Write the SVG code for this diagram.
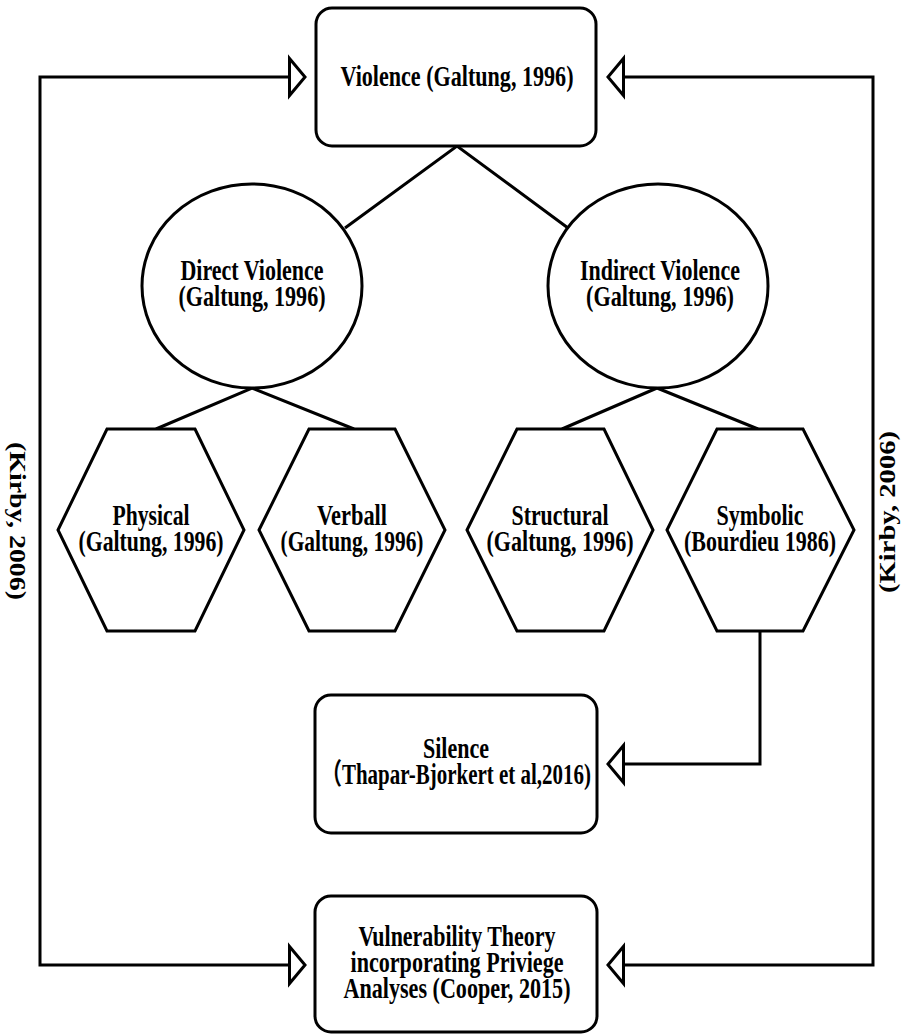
<svg xmlns="http://www.w3.org/2000/svg" width="902" height="1034" viewBox="0 0 902 1034">
  <style>
    .shape { fill: #ffffff; stroke: #000000; stroke-width: 3; }
    .link { fill: none; stroke: #000000; stroke-width: 3; }
    .label { font-family: "Liberation Serif", "Times New Roman", "Noto Sans CJK SC", serif; font-weight: bold; font-size: 29px; fill: #000000; text-anchor: middle; }
    .side { font-size: 28px; }
  </style>
  <defs>
    <!-- hollow triangular arrowhead, tip at the path end -->
    <marker id="hollow" viewBox="0 0 18 40" refX="17" refY="20" markerWidth="18" markerHeight="40" markerUnits="userSpaceOnUse" orient="auto-start-reverse" overflow="visible">
      <path d="M1.5,1.5 L17,20 L1.5,38.5 Z" fill="#ffffff" stroke="#000000" stroke-width="3" stroke-linejoin="miter"/>
    </marker>
  </defs>

  <!-- connectors -->
  <g id="connectors">
    <path class="link" d="M345,228 L457,146 L568,228"/>
    <path class="link" d="M156,429 L252,388 L354,429"/>
    <path class="link" d="M562,429 L657,388 L758,429"/>
    <path class="link" d="M760,631 V764 H608" marker-end="url(#hollow)"/>
    <path class="link" d="M305,77 H40 V965 H305" marker-start="url(#hollow)" marker-end="url(#hollow)"/>
    <path class="link" d="M608,77 H873 V965 H608" marker-start="url(#hollow)" marker-end="url(#hollow)"/>
    <text class="label side" transform="translate(10,521) rotate(90) scale(1,0.85)" x="0" y="0" textLength="158" lengthAdjust="spacingAndGlyphs">(Kirby, 2006)</text>
    <text class="label side" transform="translate(895,512) rotate(-90) scale(1,0.85)" x="0" y="0" textLength="162" lengthAdjust="spacingAndGlyphs">(Kirby, 2006)</text>
  </g>

  <g id="violence">
    <rect class="shape" x="316" y="8" width="280" height="138" rx="16" ry="16"/>
    <text class="label" x="457" y="86" textLength="233" lengthAdjust="spacingAndGlyphs">Violence (Galtung, 1996)</text>
  </g>

  <g id="direct-violence">
    <ellipse class="shape" cx="252" cy="286" rx="110" ry="102"/>
    <text class="label" x="252" y="280" textLength="143" lengthAdjust="spacingAndGlyphs">Direct Violence</text>
    <text class="label" x="252" y="306" textLength="147" lengthAdjust="spacingAndGlyphs">(Galtung, 1996)</text>
  </g>

  <g id="indirect-violence">
    <ellipse class="shape" cx="658" cy="286" rx="110" ry="102"/>
    <text class="label" x="660" y="280" textLength="160" lengthAdjust="spacingAndGlyphs">Indirect Violence</text>
    <text class="label" x="660" y="306" textLength="148" lengthAdjust="spacingAndGlyphs">(Galtung, 1996)</text>
  </g>

  <g id="physical">
    <polygon class="shape" points="58,530 107,429 195,429 244,530 195,631 107,631"/>
    <text class="label" x="151" y="525" textLength="77" lengthAdjust="spacingAndGlyphs">Physical</text>
    <text class="label" x="151" y="551" textLength="145" lengthAdjust="spacingAndGlyphs">(Galtung, 1996)</text>
  </g>

  <g id="verbal">
    <polygon class="shape" points="259,530 309,429 395,429 445,530 395,631 309,631"/>
    <text class="label" x="352" y="525" textLength="70" lengthAdjust="spacingAndGlyphs">Verball</text>
    <text class="label" x="352" y="551" textLength="143" lengthAdjust="spacingAndGlyphs">(Galtung, 1996)</text>
  </g>

  <g id="structural">
    <polygon class="shape" points="467,530 517,429 604,429 653,530 604,631 517,631"/>
    <text class="label" x="560" y="525" textLength="97" lengthAdjust="spacingAndGlyphs">Structural</text>
    <text class="label" x="560" y="551" textLength="147" lengthAdjust="spacingAndGlyphs">(Galtung, 1996)</text>
  </g>

  <g id="symbolic">
    <polygon class="shape" points="667,530 717,429 803,429 854,530 803,631 717,631"/>
    <text class="label" x="760" y="525" textLength="87" lengthAdjust="spacingAndGlyphs">Symbolic</text>
    <text class="label" x="760" y="551" textLength="152" lengthAdjust="spacingAndGlyphs">(Bourdieu 1986)</text>
  </g>

  <g id="silence">
    <rect class="shape" x="315" y="695" width="282" height="138" rx="16" ry="16"/>
    <text class="label" x="456" y="758" textLength="66" lengthAdjust="spacingAndGlyphs">Silence</text>
    <text class="label" x="456" y="784" textLength="270" lengthAdjust="spacingAndGlyphs">（Thapar-Bjorkert et al,2016)</text>
  </g>

  <g id="vulnerability-theory">
    <rect class="shape" x="315" y="896" width="282" height="136" rx="16" ry="16"/>
    <text class="label" x="457" y="946" textLength="197" lengthAdjust="spacingAndGlyphs">Vulnerability Theory</text>
    <text class="label" x="457" y="972" textLength="213" lengthAdjust="spacingAndGlyphs">incorporating Priviege</text>
    <text class="label" x="457" y="998" textLength="227" lengthAdjust="spacingAndGlyphs">Analyses (Cooper, 2015)</text>
  </g>
</svg>
